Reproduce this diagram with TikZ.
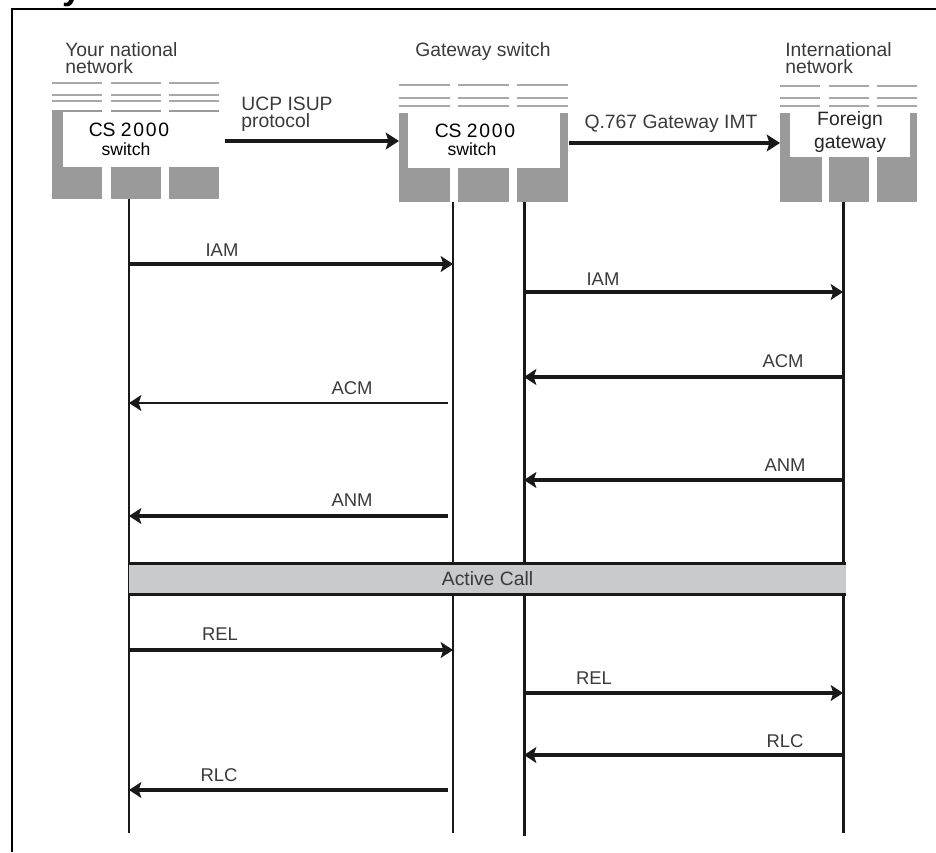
\documentclass[tikz,border=0pt]{standalone}
\usepackage{fontspec}
\setmainfont{Liberation Sans}
\usepackage{xcolor}
\usepackage{tikz}
\usetikzlibrary{arrows.meta, positioning}

\definecolor{colgrey}{HTML}{9A9A9A}
\definecolor{linegrey}{HTML}{A8A8A8}
\definecolor{bargrey}{HTML}{C9CACC}
\definecolor{txtgrey}{HTML}{3A3A3A}

\newcommand{\cstext}{CS 2\kern1pt0\kern1pt0\kern1pt0}

\tikzset{
  greycol/.style={fill=colgrey, draw=none, anchor=north west, inner sep=0pt, minimum height=1.78cm},
  swbox/.style={fill=white, draw=none, anchor=north west, inner sep=0pt},
  swtxt/.style={inner sep=0pt, font=\fontsize{11}{10}\selectfont},
  ttl/.style={align=left, anchor=north west, inner sep=0pt, text=txtgrey, font=\fontsize{11}{9.6}\selectfont},
  lbl/.style={inner sep=0pt, text=txtgrey, font=\fontsize{10.5}{12}\selectfont},
  life/.style={line width=1.7pt, black!90},
  msg/.style={line width=2.2pt, black!90, -{Stealth[length=7pt, width=9pt, inset=1.5pt]}},
  thinmsg/.style={line width=1.2pt, black!90, -{Stealth[length=7pt, width=9pt, inset=1.5pt]}},
  hdr/.style={line width=2.3pt, black!90, -{Stealth[length=7.5pt, width=9.5pt, inset=1.5pt]}},
}

\begin{document}
\begin{tikzpicture}[x=0.02cm, y=-0.02cm]

    \useasboundingbox (0,0) rectangle (936,852);

    % =================================================================
    % 1. KHUNG
    % =================================================================
    \draw[line width=1.7pt] (12,852) -- (12,9) -- (936,9);
    \node[anchor=base, inner sep=0pt, font=\bfseries\fontsize{20}{20}\selectfont] (cut) at (72,0) {y};

    % =================================================================
    % 2. CAC KHOI TONG DAI
    % =================================================================
    % Your national network
    \node[ttl] (natttl) at (65,42) {Your national\\network};
    \foreach \x in {52,111,169} {
        \draw[linegrey, line width=1.1pt] (\x,83) -- ++(50,0);
        \draw[linegrey, line width=1.1pt] (\x,95) -- ++(50,0);
        \draw[linegrey, line width=1.1pt] (\x,101) -- ++(50,0);
    }
    \node[greycol, minimum width=1cm] (natcolA) at (52,110) {};
    \node[greycol, minimum width=1cm] (natcolB) at (111,110) {};
    \node[greycol, minimum width=1cm] (natcolC) at (169,110) {};
    \node[swbox, minimum width=3.22cm, minimum height=1.1cm] (natsw) at (63,112) {};
    \node[swtxt] (natcs) at (129,130) {\cstext};
    \node[swtxt, font=\fontsize{10}{10}\selectfont] (natswt) at (126,149) {switch};

    % Gateway switch
    \node[ttl, anchor=center] (gwttl) at (483,52) {Gateway switch};
    \foreach \x in {399,458,517} {
        \draw[linegrey, line width=1.1pt] (\x,85) -- ++(51,0);
        \draw[linegrey, line width=1.1pt] (\x,98) -- ++(51,0);
        \draw[linegrey, line width=1.1pt] (\x,106) -- ++(51,0);
    }
    \node[greycol, minimum width=1.02cm] (gwcolA) at (399,113) {};
    \node[greycol, minimum width=1.02cm] (gwcolB) at (458,113) {};
    \node[greycol, minimum width=1.02cm] (gwcolC) at (517,113) {};
    \node[swbox, minimum width=3.04cm, minimum height=1.1cm] (gwsw) at (408,113) {};
    \node[swtxt] (gwcs) at (475,131) {\cstext};
    \node[swtxt, font=\fontsize{10}{10}\selectfont] (gwswt) at (472,149) {switch};

    % International network
    \node[ttl] (forttl) at (785,42) {International\\network};
    \foreach \x in {780,829,877} {
        \draw[linegrey, line width=1.1pt] (\x,86) -- ++(40,0);
        \draw[linegrey, line width=1.1pt] (\x,98) -- ++(40,0);
        \draw[linegrey, line width=1.1pt] (\x,106) -- ++(40,0);
    }
    \node[greycol, minimum width=0.84cm] (forcolA) at (780,113) {};
    \node[greycol, minimum width=0.8cm] (forcolB) at (829,113) {};
    \node[greycol, minimum width=0.8cm] (forcolC) at (877,113) {};
    \node[swbox, minimum width=2.4cm, minimum height=0.94cm] (forsw) at (790,110) {};
    \node[lbl, text=black!85, font=\fontsize{11}{12}\selectfont] (forfg) at (850,121) {Foreign};
    \node[lbl, text=black!85, font=\fontsize{11}{12}\selectfont] (forgw) at (850,144) {gateway};

    % =================================================================
    % 3. MUI TEN GIUA CAC KHOI
    % =================================================================
    \draw[hdr] (natsw.east |- 0,141) -- (gwcolA.west |- 0,141);
    \node[ttl] (ucp) at (241,97) {UCP ISUP\\protocol};
    \draw[hdr] (gwcolC.east |- 0,143) -- (forcolA.west |- 0,143);
    \node[lbl, font=\fontsize{11}{12}\selectfont] (q767) at (671,124) {Q.767 Gateway IMT};

    % =================================================================
    % 4. DUONG THOI GIAN
    % =================================================================
    \coordinate (natTop) at (129,199);
    \coordinate (natBot) at (129,833);
    \coordinate (gwaTop) at (453,202);
    \coordinate (gwaBot) at (453,833);
    \coordinate (gwbTop) at (524,202);
    \coordinate (gwbBot) at (524,836);
    \coordinate (forTop) at (843,202);
    \coordinate (forBot) at (843,833);
    \draw[life] (natTop) -- (natBot);
    \draw[line width=1.1pt, black!90] (gwaTop) -- (gwaBot);
    \draw[life] (gwbTop) -- (gwbBot);
    \draw[life] (forTop) -- (forBot);

    % =================================================================
    % 5. CAC BAN TIN
    % =================================================================
    \coordinate (iam1a) at (129,264); \coordinate (iam1b) at (453,264);
    \draw[msg] (iam1a) -- (iam1b);
    \node[lbl] (iam1) at (222,250) {IAM};

    \coordinate (iam2a) at (524,292); \coordinate (iam2b) at (843,292);
    \draw[msg] (iam2a) -- (iam2b);
    \node[lbl] (iam2) at (603,279) {IAM};

    \coordinate (acm2a) at (843,377); \coordinate (acm2b) at (524,377);
    \draw[msg] (acm2a) -- (acm2b);
    \node[lbl] (acm2) at (783,361) {ACM};

    \coordinate (acm1a) at (448,403); \coordinate (acm1b) at (129,403);
    \draw[thinmsg] (acm1a) -- (acm1b);
    \node[lbl] (acm1) at (352,388) {ACM};

    \coordinate (anm2a) at (843,480); \coordinate (anm2b) at (524,480);
    \draw[msg] (anm2a) -- (anm2b);
    \node[lbl] (anm2) at (785,465) {ANM};

    \coordinate (anm1a) at (448,516); \coordinate (anm1b) at (129,516);
    \draw[msg] (anm1a) -- (anm1b);
    \node[lbl] (anm1) at (352,500) {ANM};

    % Active Call
    \node[fill=bargrey, inner sep=0pt, minimum width=14.34cm, minimum height=0.6cm,
          font=\fontsize{11}{12}\selectfont, text=txtgrey] (active) at (487.5,579) {Active Call};
    \draw[life] (active.north west) -- (active.north east);
    \draw[life] (active.south west) -- (active.south east);

    \coordinate (rel1a) at (129,650); \coordinate (rel1b) at (453,650);
    \draw[msg] (rel1a) -- (rel1b);
    \node[lbl] (rel1) at (220,634) {REL};

    \coordinate (rel2a) at (524,693); \coordinate (rel2b) at (843,693);
    \draw[msg] (rel2a) -- (rel2b);
    \node[lbl] (rel2) at (594,678) {REL};

    \coordinate (rlc2a) at (843,755); \coordinate (rlc2b) at (524,755);
    \draw[msg] (rlc2a) -- (rlc2b);
    \node[lbl] (rlc2) at (785,741) {RLC};

    \coordinate (rlc1a) at (448,790); \coordinate (rlc1b) at (129,790);
    \draw[msg] (rlc1a) -- (rlc1b);
    \node[lbl] (rlc1) at (219,775) {RLC};

\end{tikzpicture}
\end{document}
